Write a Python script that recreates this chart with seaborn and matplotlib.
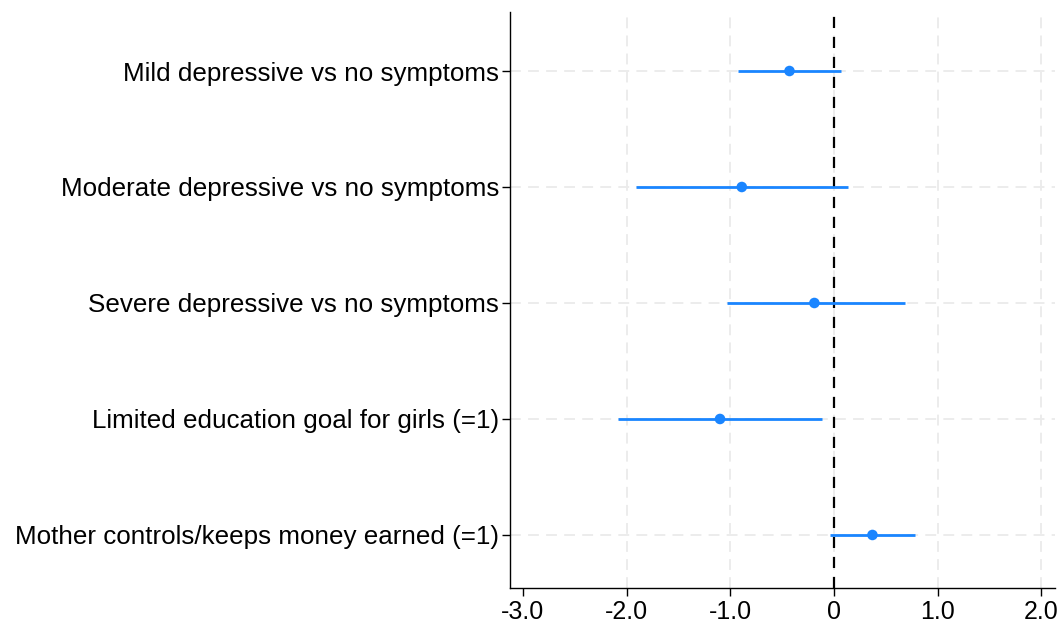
import pandas as pd
import matplotlib.pyplot as plt
import seaborn as sns

labels = [
    'Mild depressive vs no symptoms',
    'Moderate depressive vs no symptoms',
    'Severe depressive vs no symptoms',
    'Limited education goal for girls (=1)',
    'Mother controls/keeps money earned (=1)',
]
estimates = [-0.43, -0.89, -0.19, -1.10, 0.37]
ci_low = [-0.93, -1.91, -1.03, -2.08, -0.04]
ci_high = [0.07, 0.13, 0.68, -0.12, 0.78]
x_ticks = [-3.0, -2.0, -1.0, 0.0, 1.0, 2.0]
x_tick_labels = ['-3.0', '-2.0', '-1.0', '0', '1.0', '2.0']

df = pd.DataFrame({'label': labels, 'est': estimates, 'lo': ci_low, 'hi': ci_high})
df['pos'] = range(len(df))

sns.set_style('white')
plt.rcParams['font.family'] = ['Liberation Sans', 'DejaVu Sans']

BLUE = '#1a85ff'

fig = plt.figure(figsize=(10.61, 6.30), dpi=100)
ax = fig.add_axes([0.4807, 0.0667, 0.5136, 0.9143])

# confidence intervals
ax.hlines(df['pos'], df['lo'], df['hi'], color=BLUE, lw=2, zorder=3)
sns.scatterplot(data=df, x='est', y='pos', color=BLUE, s=58, edgecolor='none', zorder=4, ax=ax)

ax.axvline(0, color='black', ls=(0, (5, 4)), lw=1.6, zorder=2)

ax.set_xlim(-3.125, 2.13)
ax.set_ylim(4.457, -0.509)
ax.set_xticks(x_ticks)
ax.set_xticklabels(x_tick_labels, fontsize=18)
ax.set_yticks(df['pos'])
ax.set_yticklabels(df['label'], fontsize=18.7)
ax.set_xlabel('')
ax.set_ylabel('')

ax.grid(True, color='#ebebeb', ls=(0, (6, 4)), lw=1.3, zorder=0)
ax.xaxis.get_gridlines()[0].set_visible(False)
ax.set_axisbelow(True)

for s in ['top', 'right']:
    ax.spines[s].set_visible(False)
for s in ['left', 'bottom']:
    ax.spines[s].set_color('black')
    ax.spines[s].set_linewidth(1.0)
ax.tick_params(axis='both', which='major', bottom=True, left=True, direction='out',
               length=6, width=1, color='black', labelcolor='black')
ax.tick_params(axis='y', pad=2)
ax.tick_params(axis='x', pad=3)

fig.savefig('out.png', dpi=100)
